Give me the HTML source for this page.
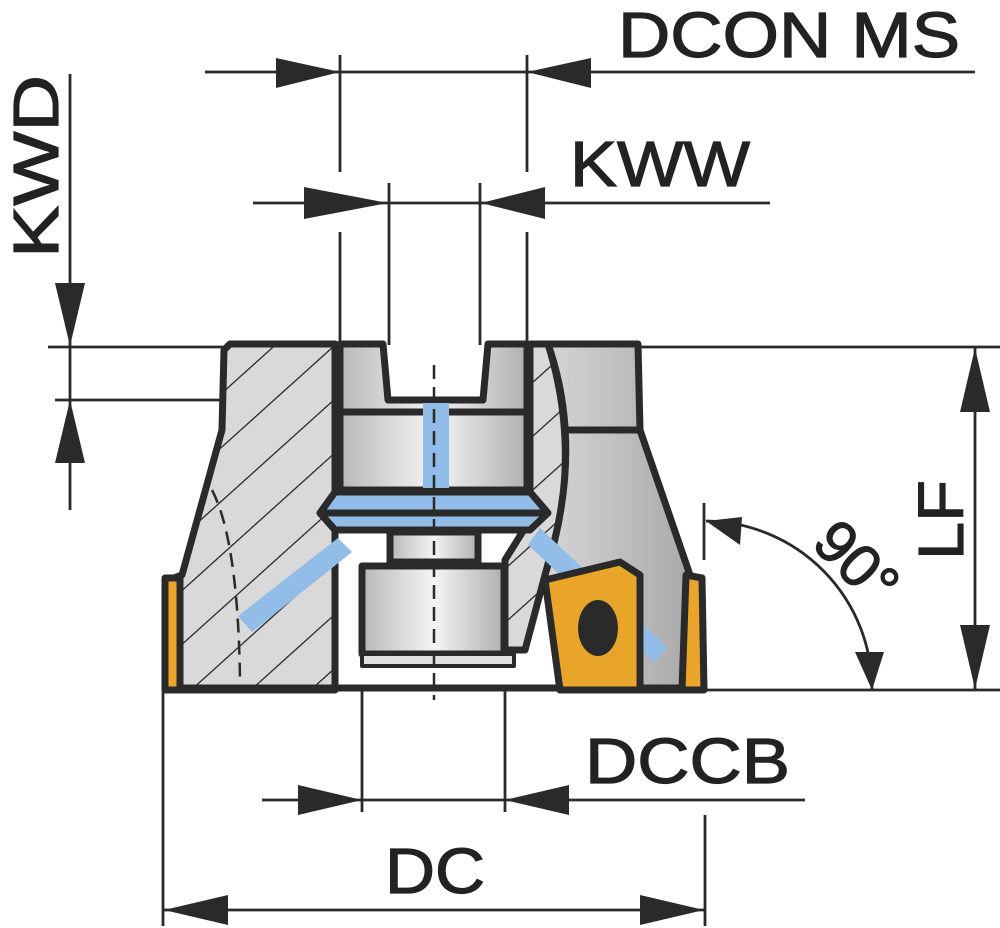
<!DOCTYPE html>
<html><head><meta charset="utf-8"><style>
html,body{margin:0;padding:0;background:#fff;}
svg{display:block;}
text{font-family:"Liberation Sans",Arial,sans-serif;fill:#222;stroke:#222;stroke-width:1.2;}
</style></head><body>
<svg width="1000" height="928" viewBox="0 0 1000 928" xmlns="http://www.w3.org/2000/svg">
<defs>
<linearGradient id="cyl" x1="0" x2="1" y1="0" y2="0">
<stop offset="0" stop-color="#b8b8b8"/><stop offset="0.5" stop-color="#f4f4f4"/><stop offset="1" stop-color="#b0b0b0"/>
</linearGradient>
<linearGradient id="rg" x1="0" x2="1" y1="0" y2="0">
<stop offset="0" stop-color="#d6d6d6"/><stop offset="1" stop-color="#a6a6a6"/>
</linearGradient>
<pattern id="hatch" patternUnits="userSpaceOnUse" width="40" height="40" patternTransform="rotate(-42)">
<rect width="40" height="40" fill="#d9d9d9"/><line x1="0" y1="0" x2="40" y2="0" stroke="#222" stroke-width="2.5"/>
</pattern>
</defs>

<g stroke="#2a2a2a" fill="#2a2a2a">
<line x1="205" y1="72" x2="975" y2="72" stroke-width="2.8"/>
<polygon points="340,72 276,58 276,88" stroke="none"/>
<polygon points="527,72 591,58 591,88" stroke="none"/>
<line x1="340" y1="55" x2="340" y2="172" stroke-width="2.8"/>
<line x1="527" y1="55" x2="527" y2="172" stroke-width="2.8"/>
<line x1="340" y1="232" x2="340" y2="345" stroke-width="2.8"/>
<line x1="527" y1="232" x2="527" y2="345" stroke-width="2.8"/>
<line x1="253" y1="203" x2="770" y2="203" stroke-width="2.8"/>
<polygon points="388,203 304,187 304,219" stroke="none"/>
<polygon points="481,203 545,187 545,219" stroke="none"/>
<line x1="389" y1="183" x2="389" y2="345" stroke-width="2.8"/>
<line x1="480" y1="183" x2="480" y2="345" stroke-width="2.8"/>
<line x1="70" y1="74" x2="70" y2="510" stroke-width="2.8"/>
<polygon points="70,346 55,283 85,283" stroke="none"/>
<polygon points="70,400 55,463 85,463" stroke="none"/>
<line x1="48" y1="347" x2="225" y2="347" stroke-width="2.8"/>
<line x1="55" y1="400" x2="222" y2="400" stroke-width="2.8"/>
<line x1="640" y1="347" x2="1000" y2="347" stroke-width="2.8"/>
<line x1="705" y1="690" x2="1000" y2="690" stroke-width="2.8"/>
<line x1="975" y1="347" x2="975" y2="690" stroke-width="2.8"/>
<polygon points="975,348 960,412 990,412" stroke="none"/>
<polygon points="975,689 960,625 990,625" stroke="none"/>
<line x1="704" y1="503" x2="704" y2="560" stroke-width="2.8"/>
<path d="M706,521 A168,168 0 0 1 872,690" fill="none" stroke-width="2.8"/>
<polygon points="706,521 742,517 740,545" stroke="none"/>
<polygon points="872,690 855,652 884,652" stroke="none"/>
<line x1="262" y1="800" x2="805" y2="800" stroke-width="2.8"/>
<polygon points="362,800 298,785 298,815" stroke="none"/>
<polygon points="505,800 569,785 569,815" stroke="none"/>
<line x1="362" y1="690" x2="362" y2="812" stroke-width="2.8"/>
<line x1="505" y1="690" x2="505" y2="812" stroke-width="2.8"/>
<line x1="163" y1="910" x2="705" y2="910" stroke-width="2.8"/>
<polygon points="164,910 228,895 228,925" stroke="none"/>
<polygon points="704,910 640,895 640,925" stroke="none"/>
<line x1="163" y1="690" x2="163" y2="926" stroke-width="2.8"/>
<line x1="705" y1="815" x2="705" y2="926" stroke-width="2.8"/>
</g>

<g stroke="#2a2a2a" stroke-width="7" stroke-linejoin="round">
<path d="M230,344 L335,344 L335,690 L172,690 L168,580 L182,575 L222,430 L224,350 Z" fill="url(#hatch)"/>
<path d="M530,344 L548,344 Q575,430 560,520 L545,575 L525,650 L505,650 L505,560 L530,520 Z" fill="url(#hatch)"/>
<path d="M548,344 L638,344 L640,430 L690,575 L700,690 L560,690 L545,575 Q585,450 548,344 Z" fill="url(#rg)"/>
<line x1="565" y1="430" x2="640" y2="430"/>
<path d="M340,344 L383,344 L388,400 L483,400 L488,344 L527,344 L527,490 L340,490 Z" fill="url(#cyl)"/>
<line x1="340" y1="412" x2="527" y2="412"/>
<rect x="423" y="403" width="26" height="85" fill="#92bde8" stroke="none"/>
<path d="M238,616 L338,538 L352,552 L252,632 Z" fill="#92bde8" stroke="none"/>
<path d="M540,528 L668,648 L654,662 L528,545 Z" fill="#92bde8" stroke="none"/>
<path d="M335,492 L530,492 L548,513 L530,530 L335,530 L320,513 Z" fill="#92bde8"/>
<line x1="322" y1="513" x2="546" y2="513"/>
<rect x="390" y="532" width="88" height="30" fill="url(#cyl)"/>
<rect x="362" y="566" width="142" height="88" fill="url(#cyl)"/>
<rect x="362" y="654" width="152" height="12" fill="#e0e0e0" stroke-width="4"/>
<line x1="168" y1="688" x2="700" y2="688"/>
<path d="M165,578 L180,578 L180,690 L165,690 Z" fill="#e8a52a"/>
<path d="M545,580 L620,562 L640,575 L640,690 L560,690 Z" fill="#e8a52a"/>
<ellipse cx="598" cy="628" rx="20" ry="28" fill="#2a2a2a" stroke="none"/>
<path d="M686,575 L702,578 L704,690 L682,690 Z" fill="#e8a52a"/>
</g>
<g stroke="#2a2a2a" stroke-width="2.5" stroke-dasharray="14,8" fill="none">
<line x1="434" y1="365" x2="434" y2="700"/>
<path d="M212,490 Q238,540 240,680"/>
</g>

<text x="618" y="57" font-size="64" textLength="342" lengthAdjust="spacingAndGlyphs">DCON MS</text>
<text x="570" y="186" font-size="64" textLength="180" lengthAdjust="spacingAndGlyphs">KWW</text>
<text x="585" y="783" font-size="64" textLength="205" lengthAdjust="spacingAndGlyphs">DCCB</text>
<text x="385" y="893" font-size="64" textLength="100" lengthAdjust="spacingAndGlyphs">DC</text>
<text transform="translate(58,258) rotate(-90)" font-size="64" textLength="183" lengthAdjust="spacingAndGlyphs">KWD</text>
<text transform="translate(963,560) rotate(-90)" font-size="64" textLength="80" lengthAdjust="spacingAndGlyphs">LF</text>
<text transform="translate(810,545) rotate(45)" font-size="60">90°</text>
</svg>
</body></html>
